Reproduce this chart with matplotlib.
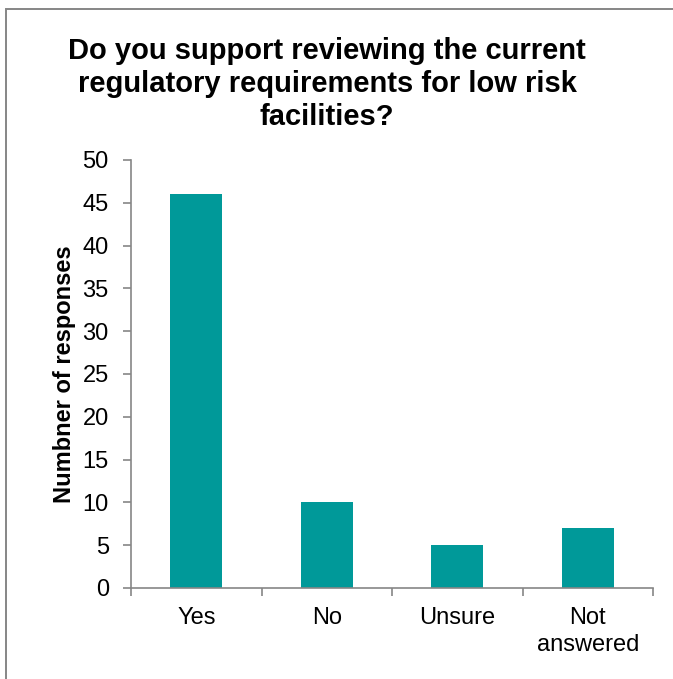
import matplotlib
matplotlib.use("Agg")
import matplotlib.pyplot as plt
from matplotlib.patches import Rectangle
import numpy as np

categories = ["Yes", "No", "Unsure", "Not\nanswered"]
responses = [46, 10, 5, 7]
y_ticks = [0, 5, 10, 15, 20, 25, 30, 35, 40, 45, 50]

title = "Do you support reviewing the current\nregulatory requirements for low risk\nfacilities?"
y_label = "Numbner of responses"

bar_color = "#009999"
axis_color = "#868686"

plt.rcParams["font.family"] = ["Liberation Sans", "DejaVu Sans"]

W, H = 673, 679
fig = plt.figure(figsize=(W / 100, H / 100), dpi=100)

# Outer chart frame (runs past the right and bottom edges)
fig.patches.append(Rectangle((6 / W, -0.05), 1.2, 1 - 8.5 / H + 0.05,
                             transform=fig.transFigure, fill=False,
                             edgecolor=axis_color, linewidth=1.4))

ax = fig.add_axes([131 / W, 1 - 588 / H, (653 - 131) / W, (588 - 160) / H])

x = np.arange(len(categories))
ax.bar(x, responses, width=0.4, color=bar_color, zorder=2)

ax.set_xlim(-0.5, len(categories) - 0.5)
ax.set_ylim(0, 50)
ax.set_yticks(y_ticks)
ax.tick_params(axis="y", labelsize=17, length=6, width=1.2, color=axis_color, pad=10)

# Category labels centred under bars, tick marks at category boundaries
ax.set_xticks(x)
ax.set_xticklabels(categories, fontsize=17, linespacing=1.32)
ax.tick_params(axis="x", which="major", length=0, pad=13.5)
ax.set_xticks(np.arange(-0.5, len(categories)), minor=True)
ax.tick_params(axis="x", which="minor", length=6, width=1.2, color=axis_color)

for side in ("top", "right"):
    ax.spines[side].set_visible(False)
for side in ("left", "bottom"):
    ax.spines[side].set_color(axis_color)
    ax.spines[side].set_linewidth(1.2)

ax.set_ylabel(y_label, fontsize=17, fontweight="bold", labelpad=5)

fig.text(327 / W, 1 - 84 / H, title, ha="center", va="center",
         fontsize=21, fontweight="bold", linespacing=1.22)

fig.savefig("out.png", dpi=100)
